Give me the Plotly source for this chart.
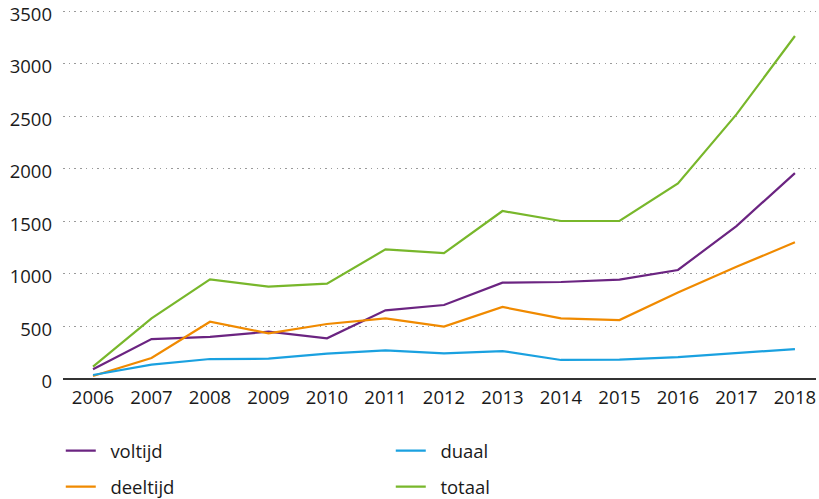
import plotly.graph_objects as go

years = list(range(2006, 2019))
voltijd = [92, 380, 400, 450, 387, 653, 704, 916, 923, 945, 1037, 1455, 1959]
deeltijd = [29, 200, 545, 434, 523, 577, 498, 685, 577, 561, 824, 1068, 1300]
duaal = [38, 136, 190, 193, 241, 273, 244, 266, 181, 184, 209, 244, 285]
totaal = [117, 577, 948, 878, 907, 1233, 1198, 1598, 1503, 1503, 1861, 2517, 3263]
y_ticks = [0, 500, 1000, 1500, 2000, 2500, 3000, 3500]

series = [
    ("voltijd", voltijd, "#6b2481", "legend", 1),
    ("deeltijd", deeltijd, "#f08a00", "legend2", 1),
    ("duaal", duaal, "#1aa1e0", "legend", 2),
    ("totaal", totaal, "#78b72b", "legend2", 2),
]

FONT = "Open Sans"
TXT = "#1a1a1a"
PAD = "\u00a0\u00a0"
fig = go.Figure()
for name, vals, color, lg, rank in series:
    fig.add_trace(go.Scatter(x=years, y=vals, mode="lines", name=PAD + name,
                             line=dict(color=color, width=2.2),
                             legend=lg, legendrank=rank))

leg_common = dict(orientation="h", xref="container", yref="container",
                  xanchor="left", yanchor="middle",
                  entrywidth=285, entrywidthmode="pixels", itemwidth=30,
                  font=dict(family=FONT, size=18.5, color=TXT),
                  bgcolor="rgba(0,0,0,0)")

fig.update_layout(
    width=819, height=499,
    margin=dict(l=63, r=3, t=9, b=120),
    paper_bgcolor="white", plot_bgcolor="white",
    font=dict(family=FONT, size=18.5, color=TXT),
    showlegend=True,
    legend=dict(x=0.0742, y=1 - 451 / 499, **leg_common),
    legend2=dict(x=0.0742, y=1 - 487 / 499, **leg_common),
    xaxis=dict(range=[2005.487, 2018.36], tickmode="array", tickvals=years,
               ticktext=[str(y) for y in years], showgrid=False, zeroline=False,
               showline=False, ticks="", ticklabelstandoff=5, automargin=False),
    yaxis=dict(range=[0, 3520], tickmode="array", tickvals=y_ticks,
               ticktext=[str(v) for v in y_ticks], ticklabeloverflow="allow",
               ticklabelshift=3,
               showgrid=True, gridcolor="#9a9a9a", griddash="1.5px,4.2px", gridwidth=1.4,
               zeroline=True, zerolinecolor="#333333", zerolinewidth=1.5,
               showline=False, ticks="", ticklabelstandoff=10, automargin=False),
)
fig.write_html("out.html", config={"displayModeBar": False},
               post_script="document.body.style.margin='0';")
